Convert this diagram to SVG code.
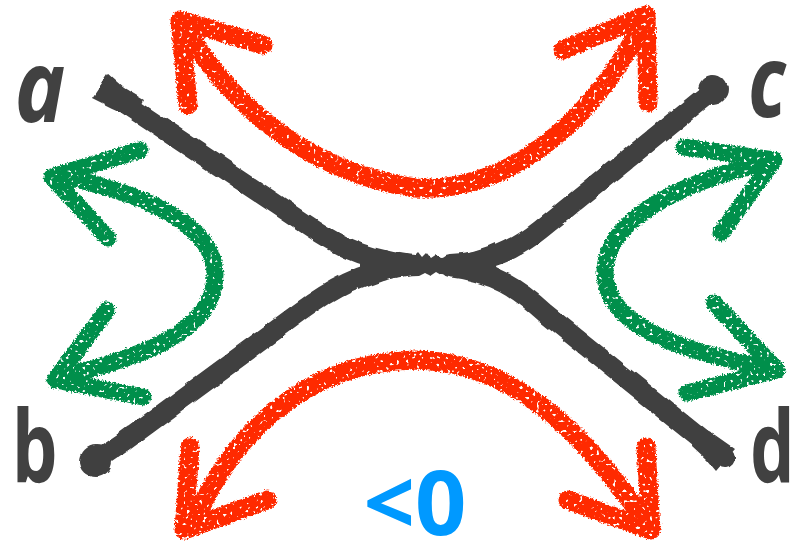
<svg xmlns="http://www.w3.org/2000/svg" width="794" height="546" viewBox="0 0 794 546">
  <defs>
    <!-- chalky crayon texture: rough edges plus small speckle holes -->
    <filter id="crayon" x="-8%" y="-8%" width="116%" height="116%">
      <feTurbulence type="fractalNoise" baseFrequency="0.55" numOctaves="2" seed="7" result="n"/>
      <feDisplacementMap in="SourceGraphic" in2="n" scale="5" xChannelSelector="R" yChannelSelector="G" result="d"/>
      <feTurbulence type="fractalNoise" baseFrequency="0.3" numOctaves="1" seed="2" result="n2"/>
      <feColorMatrix in="n2" type="matrix" values="0 0 0 0 0  0 0 0 0 0  0 0 0 0 0  -15 0 0 0 10.6" result="m"/>
      <feComposite in="d" in2="m" operator="in"/>
    </filter>
    <!-- gentle wobble for the ink strokes of the cross -->
    <filter id="wobble" x="-5%" y="-5%" width="110%" height="110%">
      <feTurbulence type="fractalNoise" baseFrequency="0.06" numOctaves="2" seed="4" result="w"/>
      <feDisplacementMap in="SourceGraphic" in2="w" scale="5" xChannelSelector="R" yChannelSelector="G"/>
    </filter>
  </defs>
  <style>
    .arm { fill: none; stroke: #414141; stroke-width: 20; stroke-linecap: round; stroke-linejoin: round; }
    .ink { fill: #414141; }
    .red { fill: none; stroke: #ff2a00; stroke-width: 19; stroke-linecap: round; stroke-linejoin: round; }
    .green { fill: none; stroke: #008f4c; stroke-width: 17; stroke-linecap: round; stroke-linejoin: round; }
    .lbl { font-family: "Noto Sans", "DejaVu Sans", sans-serif; font-weight: bold; font-size: 100px; fill: #414141; text-anchor: middle; }
    .sign { font-family: "Noto Sans", "Liberation Sans", sans-serif; font-weight: bold; font-size: 90px; fill: #0099ff; text-anchor: middle; }
  </style>

  <rect width="794" height="546" fill="#ffffff"/>

  <!-- the crossing: four arms meeting in a narrow neck -->
  <g id="cross" filter="url(#wobble)">
    <path class="arm" d="M108,92 L300,220 C335,244 360,258 405,264"/>
    <path class="arm" d="M97,460 L125,441 L300,312 C330,290 360,272 405,266"/>
    <path class="arm" d="M713,90 L540,230 C515,250 490,262 450,264"/>
    <path class="arm" d="M725,458 L545,313 C520,290 495,272 450,267"/>
    <path class="ink" d="M360,244 C385,253 400,254 415,255 L418,252 L422,257 L426,253 L430,258 L436,254 L441,257 C455,256 475,252 495,243 L497,285 C475,278 455,275 441,274 L436,271 L430,275 L424,272 L418,275 C400,275 385,280 360,290 Z"/>
    <path class="ink" d="M92,98 L108,74 L124,88 L144,100 L135,118 L112,108 Z"/>
    <path class="ink" d="M716,471 L735,449 L715,435 L694,425 L692,446 L706,459 Z"/>
    <circle class="ink" cx="713" cy="90" r="15"/>
    <circle class="ink" cx="96" cy="461" r="16"/>
  </g>

  <!-- end labels -->
  <g id="node-a"><text class="lbl" font-style="italic" transform="translate(40,122) scale(0.85,1)">a</text></g>
  <g id="node-b"><text class="lbl" transform="translate(35,483) scale(0.72,1)">b</text></g>
  <g id="node-c"><text class="lbl" font-style="italic" transform="translate(767,117) scale(0.78,1)">c</text></g>
  <g id="node-d"><text class="lbl" transform="translate(772,483) scale(0.7,1)">d</text></g>

  <!-- double-headed crayon arrows -->
  <g id="connectors">
    <g id="arrow-top" filter="url(#crayon)">
      <path class="red" d="M190,35 C215,80 290,170 415,188 C515,194 600,110 643,22"/>
      <path class="red" d="M263,45 L180,20 L188,105"/>
      <path class="red" d="M563,50 L646,15 L648,103"/>
    </g>
    <g id="arrow-bottom" filter="url(#crayon)">
      <path class="red" d="M195,520 C230,440 300,362 415,360 C525,362 595,450 648,525"/>
      <path class="red" d="M190,447 L184,530 L267,500"/>
      <path class="red" d="M646,447 L651,530 L568,500"/>
    </g>
    <g id="arrow-left" filter="url(#crayon)">
      <path class="green" d="M60,176 C130,190 215,220 215,275 C215,335 130,360 60,377"/>
      <path class="green" d="M140,150 L52,177 L108,238"/>
      <path class="green" d="M107,310 L55,380 L143,397"/>
    </g>
    <g id="arrow-right" filter="url(#crayon)">
      <path class="green" d="M772,162 C700,175 605,215 605,272 C605,330 690,352 775,370"/>
      <path class="green" d="M684,147 L774,160 L721,233"/>
      <path class="green" d="M714,303 L777,370 L687,393"/>
    </g>
  </g>

  <!-- sign of the coupling -->
  <g id="sign"><text class="sign" x="415" y="535">&lt;0</text></g>
</svg>
